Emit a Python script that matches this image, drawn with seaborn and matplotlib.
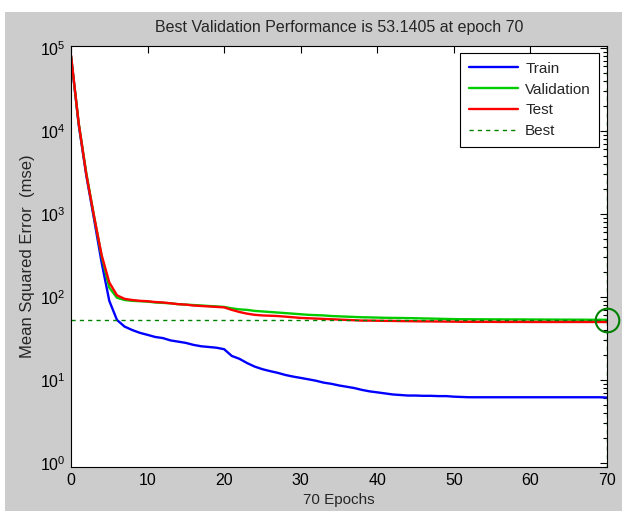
import numpy as np
import pandas as pd
import matplotlib
matplotlib.use('Agg')
import matplotlib.pyplot as plt
import seaborn as sns
from matplotlib.patches import Rectangle
from matplotlib.ticker import LogLocator, NullFormatter, MultipleLocator

# ── DATA ────────────────────────────────────────────────────────────────────
epochs = list(range(0, 71))

train = [80000, 12000, 2900, 880, 260, 90, 53, 44, 40, 37,
         35, 33, 32, 30, 29, 28, 26.5, 25.5, 25, 24.5,
         23.5, 19.5, 18, 16, 14.5, 13.5, 12.8, 12.2, 11.5, 11,
         10.6, 10.2, 9.8, 9.3, 9.0, 8.6, 8.3, 8.0, 7.6, 7.3,
         7.1, 6.9, 6.7, 6.6, 6.5, 6.5, 6.45, 6.45, 6.4, 6.4,
         6.3, 6.25, 6.2, 6.2, 6.2, 6.2, 6.2, 6.2, 6.2, 6.2,
         6.2, 6.2, 6.2, 6.2, 6.2, 6.2, 6.2, 6.2, 6.2, 6.2,
         6.15]

validation = [80000, 12500, 3100, 950, 310, 130, 98, 92, 90, 89,
              88, 86, 85, 84, 82, 81, 80, 79, 78, 77,
              76, 73, 71, 70, 68, 67, 66, 65, 64, 63,
              62, 61, 60.5, 60, 59, 58.5, 58, 57.5, 57, 56.8,
              56.5, 56.2, 56, 55.9, 55.7, 55.5, 55.2, 55, 54.7, 54.4,
              54.2, 54, 54, 53.9, 53.9, 53.8, 53.8, 53.7, 53.7, 53.7,
              53.6, 53.6, 53.5, 53.5, 53.4, 53.4, 53.3, 53.3, 53.2, 53.2,
              53.1405]

test = [82000, 12500, 3000, 950, 320, 150, 105, 95, 92, 90,
        89, 87, 86, 84, 82, 81, 79, 78, 77, 76,
        75, 70, 66, 63, 61, 60, 59.5, 59, 58, 57,
        56, 55.5, 55, 54.5, 54, 53.5, 53, 52.5, 52, 52,
        51.8, 51.6, 51.5, 51.3, 51.2, 51, 50.9, 50.8, 50.7, 50.6,
        50.5, 50.3, 50.3, 50.2, 50.2, 50.2, 50.1, 50.1, 50.1, 50.1,
        50, 50, 50, 50, 50, 50, 50, 50, 50, 50,
        50]

best_epoch = 70
best_perf = 53.1405

df = pd.DataFrame({'epoch': epochs, 'Train': train,
                   'Validation': validation, 'Test': test})

# ── STYLE ────────────────────────────────────────────────────────────────────
sns.set_theme(style='white')
plt.rcParams['font.family'] = ['Liberation Sans', 'DejaVu Sans']
plt.rcParams['mathtext.fontset'] = 'custom'
plt.rcParams['mathtext.rm'] = 'Liberation Sans'
plt.rcParams['mathtext.it'] = 'Liberation Sans'

GRAY = '#cccccc'
fig = plt.figure(figsize=(6.22, 5.11), dpi=100, facecolor='white')
fig.patches.append(Rectangle((5 / 622, 0), 1, 1 - 12 / 511,
                             transform=fig.transFigure, facecolor=GRAY,
                             edgecolor='none', zorder=-10))
ax = fig.add_axes([71 / 622, 1 - 467 / 511, 536 / 622, (467 - 45.7) / 511])
ax.set_facecolor('white')

# ── PLOT ─────────────────────────────────────────────────────────────────────
sns.lineplot(data=df, x='epoch', y='Train', color='#0000ff', lw=1.7,
             label='Train', ax=ax)
sns.lineplot(data=df, x='epoch', y='Validation', color='#00cc00', lw=1.7,
             label='Validation', ax=ax)
sns.lineplot(data=df, x='epoch', y='Test', color='#ff0000', lw=1.7,
             label='Test', ax=ax)
ax.axhline(best_perf, color='#008000', ls=(0, (3, 3)), lw=1, label='Best')
ax.axvline(best_epoch, color='#008000', ls=(0, (3, 3)), lw=1)
ax.plot([best_epoch], [best_perf], 'o', ms=17, mfc='none', mec='#008000',
        mew=1.5, clip_on=False, zorder=5)

ax.set_yscale('log')
ax.set_xlim(0, 70)
ax.set_ylim(10 ** -0.048, 10 ** 5.028)
ax.xaxis.set_major_locator(MultipleLocator(10))
ax.yaxis.set_major_locator(LogLocator(base=10, numticks=10))
ax.yaxis.set_minor_locator(LogLocator(base=10, subs=np.arange(2, 10), numticks=20))
ax.yaxis.set_minor_formatter(NullFormatter())
ax.tick_params(which='both', direction='in', top=True, right=True,
               labelsize=11.5, colors='black', pad=4)
ax.tick_params(which='major', length=5, width=0.8)
ax.tick_params(which='minor', length=3, width=0.8)
for s in ax.spines.values():
    s.set_color('black')
    s.set_linewidth(0.8)

ax.set_title('Best Validation Performance is 53.1405 at epoch 70',
             fontsize=11.5, pad=10)
ax.set_xlabel('70 Epochs', fontsize=11, labelpad=4)
ax.set_ylabel('Mean Squared Error  (mse)', fontsize=12, labelpad=3)

leg = ax.legend(loc='upper right', fontsize=11, frameon=True, fancybox=False,
                edgecolor='black', framealpha=1, handlelength=3.2,
                borderaxespad=0.5, labelspacing=0.45, borderpad=0.55,
                handletextpad=0.5)
leg.get_frame().set_linewidth(0.8)

fig.savefig('out.png', dpi=100, facecolor=fig.get_facecolor())
